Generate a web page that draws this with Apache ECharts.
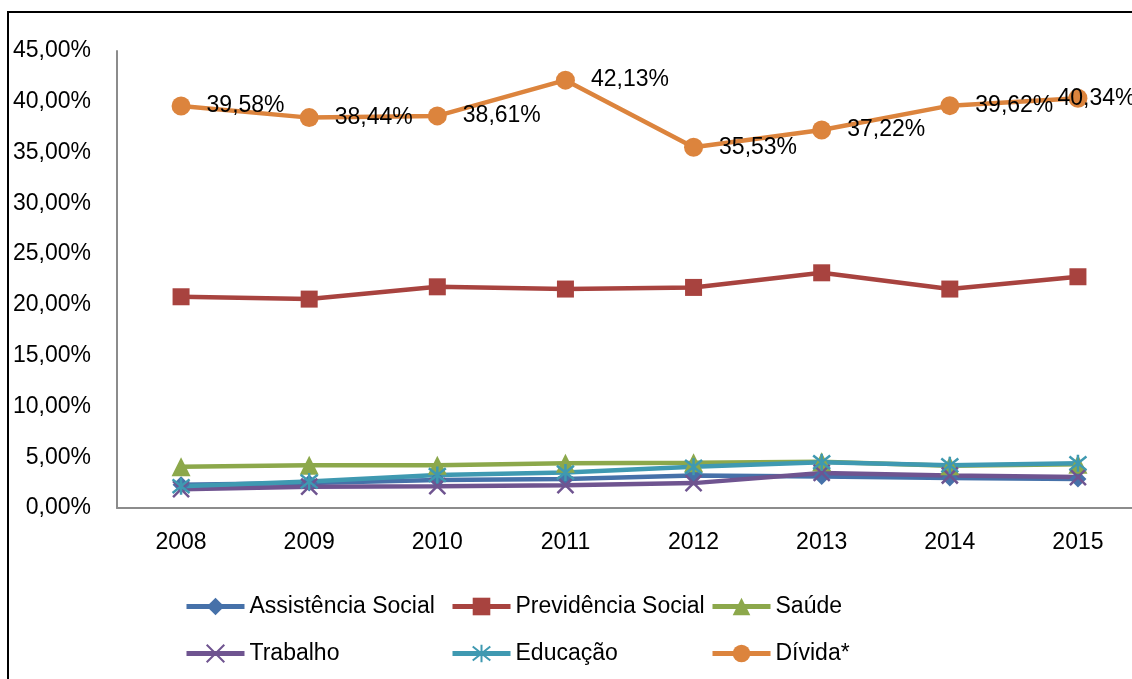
<!DOCTYPE html>
<html>
<head>
<meta charset="utf-8">
<script src="https://cdn.jsdelivr.net/npm/echarts@6/dist/echarts.min.js"></script>
<style>
  html, body { margin: 0; padding: 0; background: #ffffff; }
  #chart { width: 1132px; height: 679px; }
</style>
</head>
<body>
<div id="chart"></div>
<script>
// Years on the category axis
const years = ['2008', '2009', '2010', '2011', '2012', '2013', '2014', '2015'];

// Share of spending per function (%)
const assistenciaSocial = [2.30, 2.45, 2.75, 2.85, 3.20, 3.10, 2.95, 2.85];
const previdenciaSocial = [20.80, 20.57, 21.78, 21.56, 21.72, 23.16, 21.56, 22.77];
const saude = [4.07, 4.20, 4.20, 4.40, 4.45, 4.55, 4.15, 4.30];
const trabalho = [1.85, 2.10, 2.15, 2.25, 2.45, 3.45, 3.20, 3.05];
const educacao = [2.15, 2.60, 3.25, 3.50, 4.05, 4.50, 4.20, 4.40];
const divida = [39.58, 38.44, 38.61, 42.13, 35.53, 37.22, 39.62, 40.34];

// Value-axis range
const yMin = 0, yMax = 45, yStep = 5;

const FONT = '"Liberation Sans", Arial, sans-serif';
const pct = v => v.toFixed(2).replace('.', ',') + '%';

const xMark = 'path://M0,0L10,10M10,0L0,10';
const starMark = 'path://M1,1L9,9M9,1L1,9M5,0L5,10';

function lineSeries(name, data, color, symbol, size, extra) {
  return Object.assign({
    name: name,
    type: 'line',
    data: data,
    symbol: symbol,
    symbolSize: size,
    lineStyle: { color: color, width: 4.5 },
    itemStyle: { color: color },
    emphasis: { disabled: true },
    animation: false
  }, extra || {});
}

// The last Dívida label is pulled left so it stays inside the frame
const dividaData = divida.map((v, i) =>
  i === divida.length - 1 ? { value: v, label: { offset: [-46, 0] } } : v);

const legendBase = {
  orient: 'vertical',
  top: 590,
  itemWidth: 58,
  itemHeight: 22,
  itemGap: 24,
  lineStyle: { width: 5 },
  textStyle: { fontFamily: FONT, fontSize: 23, color: '#000' },
  selectedMode: false
};

const chart = echarts.init(document.getElementById('chart'), null, { renderer: 'canvas' });
chart.setOption({
  backgroundColor: '#ffffff',
  animation: false,
  graphic: [{
    type: 'rect',
    shape: { x: 8, y: 12, width: 1300, height: 900 },
    style: { fill: 'none', stroke: '#000', lineWidth: 2 },
    silent: true,
    z: -1
  }],
  grid: {
    left: 117, top: 51, bottom: 171, right: -10,
    containLabel: false,
    outerBoundsMode: 'none'
  },
  legend: [
    Object.assign({ left: 179, data: ['Assistência Social', 'Trabalho'] }, legendBase),
    Object.assign({ left: 445, data: ['Previdência Social', 'Educação'] }, legendBase),
    Object.assign({ left: 705, data: ['Saúde', 'Dívida*'] }, legendBase)
  ],
  xAxis: {
    type: 'category',
    data: years,
    boundaryGap: true,
    axisLine: { show: true, lineStyle: { color: '#8c8c8c', width: 2 } },
    axisTick: { show: false },
    axisLabel: { color: '#000', fontFamily: FONT, fontSize: 23, margin: 23 },
    splitLine: { show: false }
  },
  yAxis: {
    type: 'value',
    min: yMin, max: yMax, interval: yStep,
    axisLine: { show: true, lineStyle: { color: '#8c8c8c', width: 2 } },
    axisTick: { show: false },
    splitLine: { show: false },
    axisLabel: {
      color: '#000', fontFamily: FONT, fontSize: 23, margin: 26,
      formatter: v => pct(v)
    }
  },
  series: [
    lineSeries('Assistência Social', assistenciaSocial, '#4671a9', 'diamond', 17),
    lineSeries('Previdência Social', previdenciaSocial, '#a8433f', 'rect', 17),
    lineSeries('Saúde', saude, '#8ca84b', 'triangle', 19),
    lineSeries('Trabalho', trabalho, '#6f5490', xMark, 16, {
      itemStyle: { color: '#6f5490', borderColor: '#6f5490', borderWidth: 2.5 }
    }),
    lineSeries('Educação', educacao, '#3f99b1', starMark, 17, {
      itemStyle: { color: '#3f99b1', borderColor: '#3f99b1', borderWidth: 2.5 }
    }),
    lineSeries('Dívida*', dividaData, '#dc843d', 'circle', 19, {
      label: {
        show: true,
        position: 'right',
        distance: 16,
        color: '#000',
        fontFamily: FONT,
        fontSize: 23,
        formatter: p => pct(p.value)
      }
    })
  ]
});
</script>
</body>
</html>
